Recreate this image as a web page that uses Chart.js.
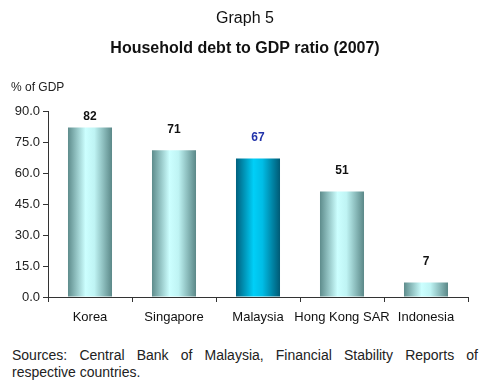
<!DOCTYPE html>
<html>
<head>
<meta charset="utf-8">
<script src="https://cdn.jsdelivr.net/npm/chart.js@4.4.1/dist/chart.umd.min.js"></script>
<style>
  body { margin: 0; background: #fff; font-family: "Liberation Sans", Arial, sans-serif; }
  #wrap { position: relative; width: 490px; height: 338px; }
  #src { position: absolute; left: 12px; top: 347px; width: 466px; font-size: 14px; line-height: 17px; color: #222; text-align: justify; }
</style>
</head>
<body>
<div id="wrap"><canvas id="c"></canvas></div>
<div id="src">Sources: Central Bank of Malaysia, Financial Stability Reports of respective countries.</div>
<script>
const categories = ['Korea', 'Singapore', 'Malaysia', 'Hong Kong SAR', 'Indonesia'];
const debtRatio = [82, 71, 67, 51, 7];
const yTicks = [0, 15, 30, 45, 60, 75, 90];
const highlight = 'Malaysia';

const FONT = '"Liberation Sans", Arial, sans-serif';

// horizontal shading like the original 3D-ish bars
function barFill(c) {
  const chart = c.chart;
  const xs = chart.scales.x;
  if (!xs || !chart.chartArea) return '#9fd6d6';
  const cw = xs.width / categories.length;
  const w = cw * 0.524;
  const cx = xs.getPixelForValue(c.dataIndex);
  const g = chart.ctx.createLinearGradient(cx - w / 2, 0, cx + w / 2, 0);
  if (categories[c.dataIndex] === highlight) {
    g.addColorStop(0, '#00607e');
    g.addColorStop(0.4, '#00cff8');
    g.addColorStop(0.6, '#00bde6');
    g.addColorStop(1, '#005a75');
  } else {
    g.addColorStop(0, '#5e8c8c');
    g.addColorStop(0.4, '#ccffff');
    g.addColorStop(0.6, '#bff4f4');
    g.addColorStop(1, '#5b8888');
  }
  return g;
}

const labelsPlugin = {
  id: 'extras',
  afterDraw(chart) {
    const ctx = chart.ctx;
    ctx.save();
    ctx.textAlign = 'center';
    ctx.textBaseline = 'middle';
    ctx.fillStyle = '#111';
    ctx.font = '16px ' + FONT;
    ctx.fillText('Graph 5', 245, 19);
    ctx.font = 'bold 16px ' + FONT;
    ctx.fillText('Household debt to GDP ratio (2007)', 245, 49);
    ctx.textAlign = 'left';
    ctx.font = '12px ' + FONT;
    ctx.fillStyle = '#222';
    ctx.fillText('% of GDP', 11, 88);
    // value labels above bars
    ctx.textAlign = 'center';
    ctx.font = 'bold 12px ' + FONT;
    chart.getDatasetMeta(0).data.forEach((bar, i) => {
      ctx.fillStyle = categories[i] === highlight ? '#2233aa' : '#111';
      const y = Math.max(bar.y - 21, 117);
      ctx.fillText(String(debtRatio[i]), bar.x, y);
    });
    ctx.restore();
  }
};

new Chart(document.getElementById('c'), {
  type: 'bar',
  data: {
    labels: categories,
    datasets: [{
      data: debtRatio,
      backgroundColor: barFill,
      borderWidth: 0,
      categoryPercentage: 1,
      barPercentage: 0.524
    }]
  },
  options: {
    responsive: true,
    maintainAspectRatio: false,
    animation: false,
    layout: { padding: { top: 111, right: 22, left: 0, bottom: 0 } },
    scales: {
      x: {
        grid: { display: true, offset: true, drawOnChartArea: false, tickLength: 5, color: '#333' },
        border: { color: '#333', width: 1 },
        ticks: { color: '#111', font: { family: FONT, size: 13 }, padding: 8, maxRotation: 0, autoSkip: false },
        afterFit(s) { s.height = 41; }
      },
      y: {
        min: 0,
        max: 90,
        afterBuildTicks(s) { s.ticks = yTicks.map(v => ({ value: v })); },
        grid: { display: true, drawOnChartArea: false, tickLength: 5, color: '#333' },
        border: { color: '#333', width: 1 },
        ticks: {
          color: '#222',
          font: { family: FONT, size: 13 },
          padding: 3,
          callback: v => v.toFixed(1)
        },
        afterFit(s) { s.width = 48; }
      }
    },
    plugins: {
      legend: { display: false },
      tooltip: { enabled: false }
    }
  },
  plugins: [labelsPlugin]
});
</script>
</body>
</html>
